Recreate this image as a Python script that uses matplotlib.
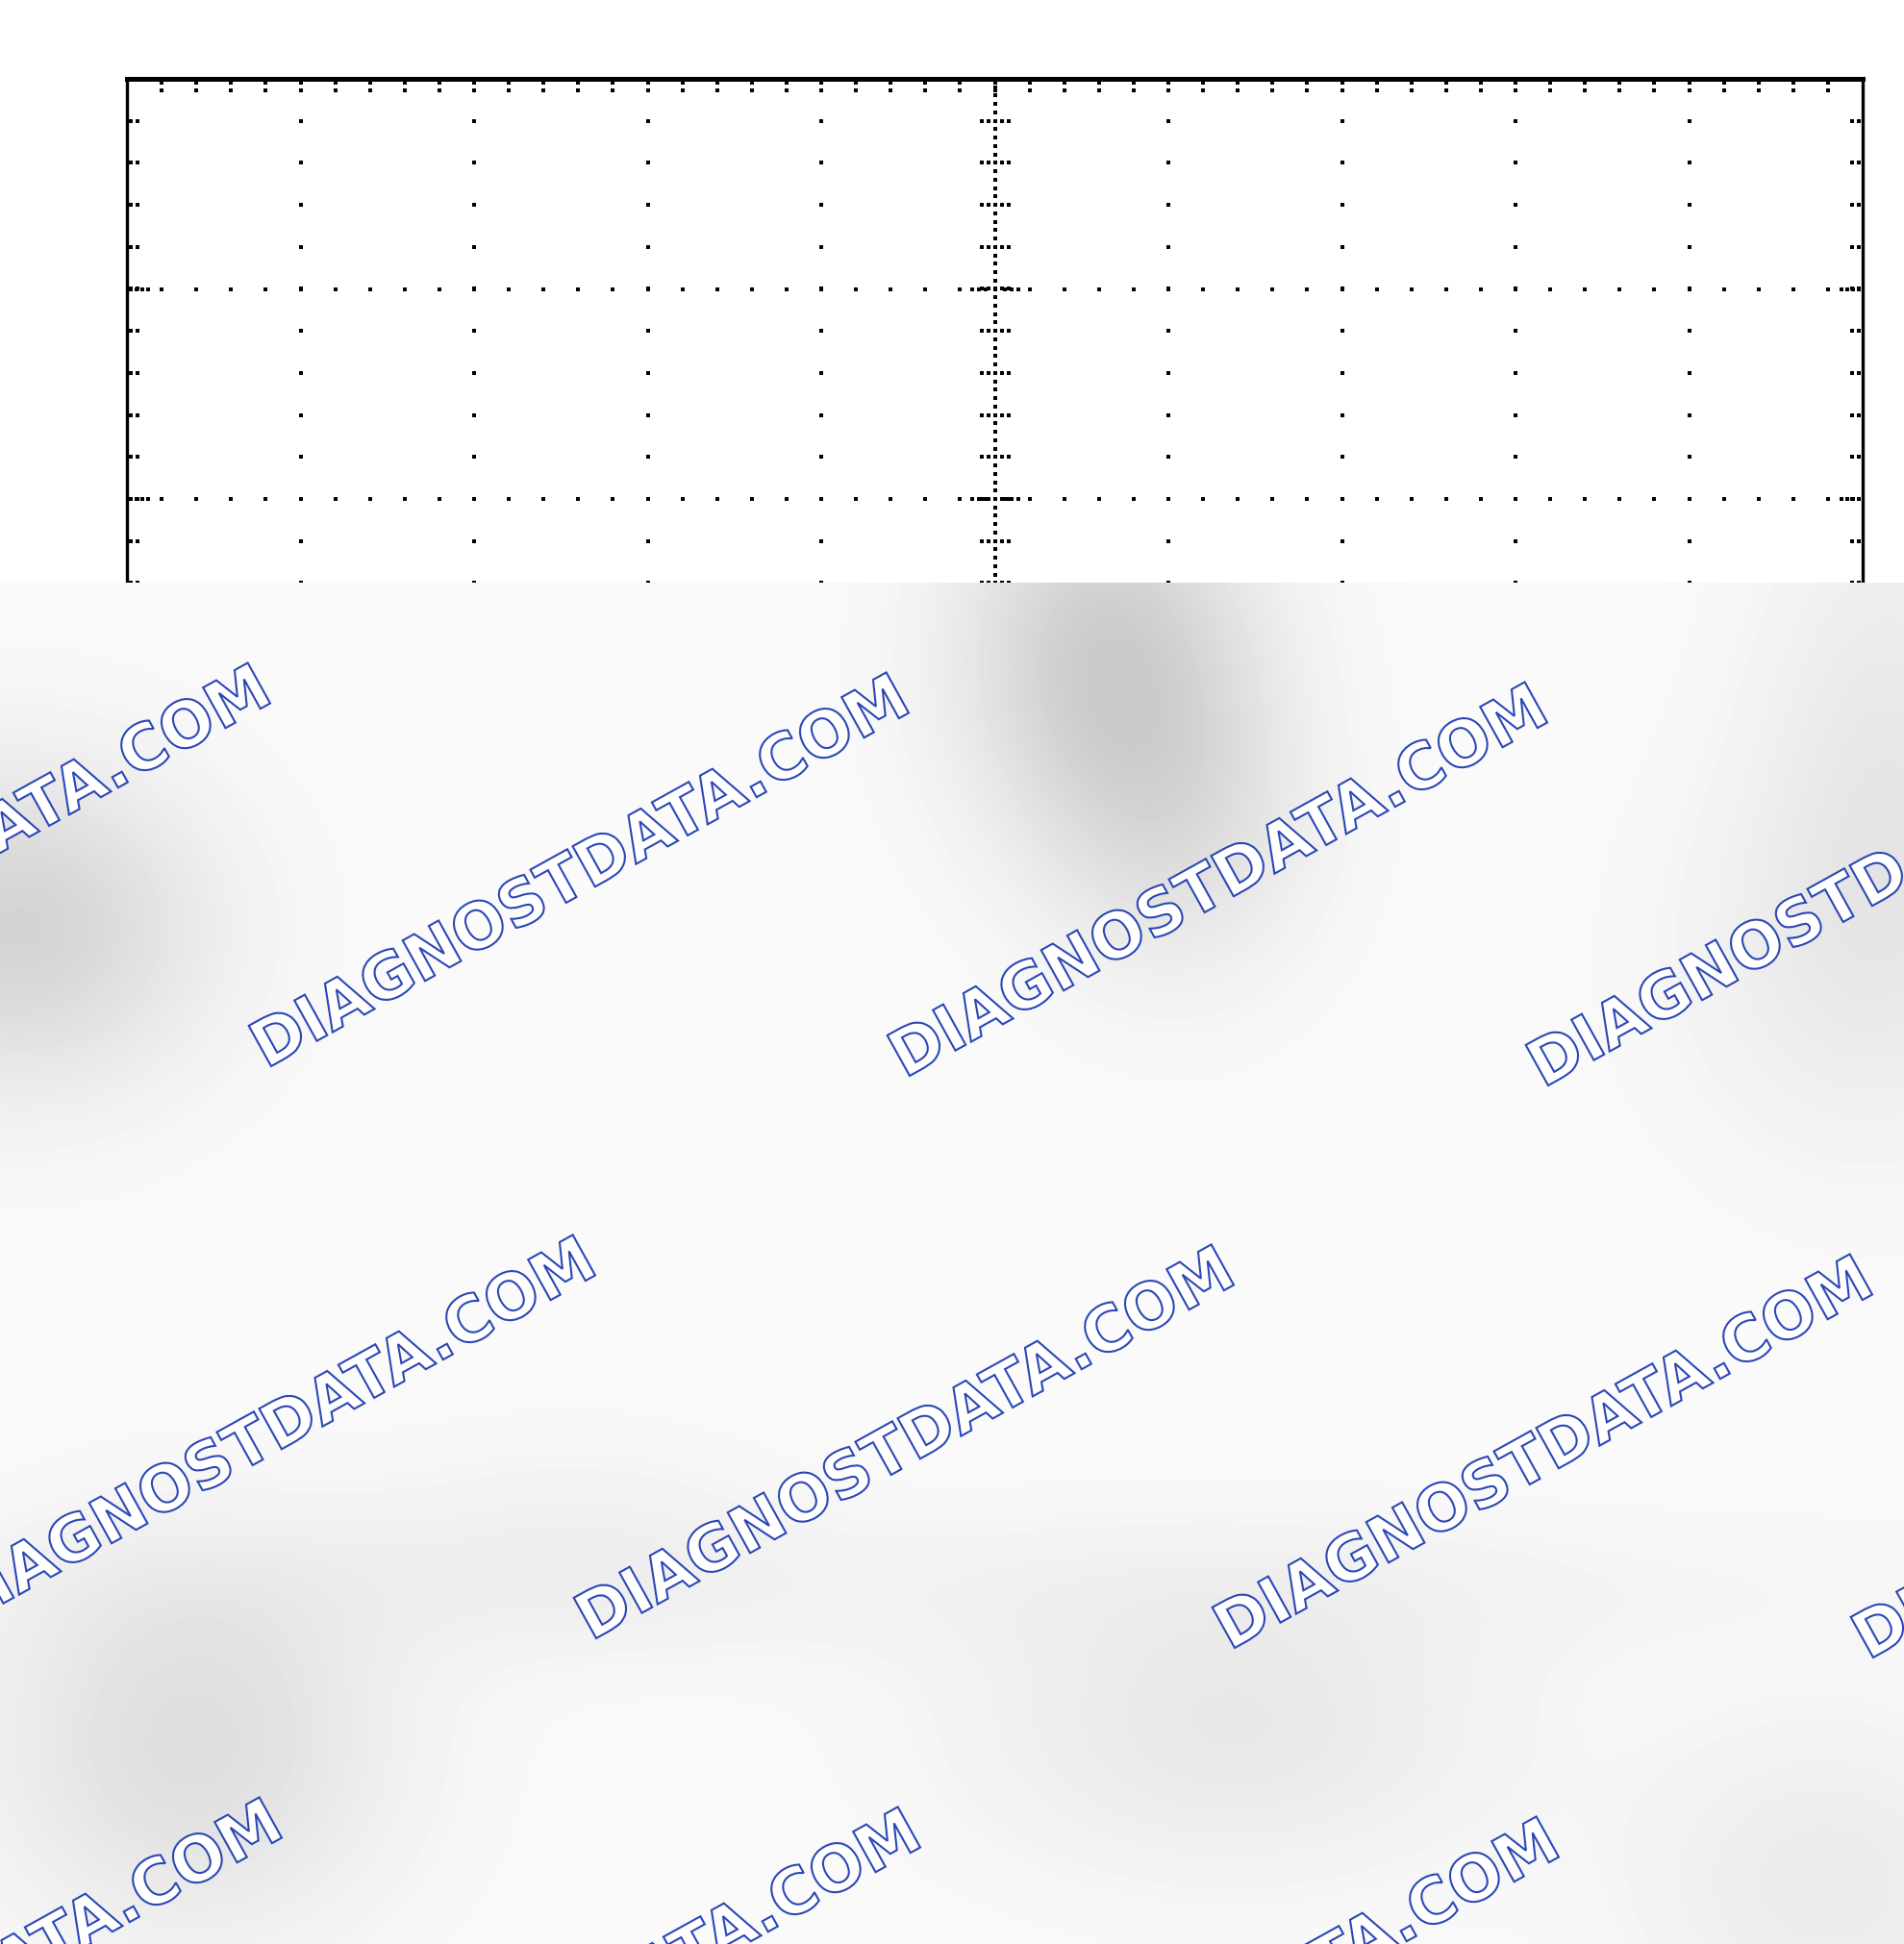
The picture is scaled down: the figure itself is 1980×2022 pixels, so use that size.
import numpy as np
import matplotlib
matplotlib.use('Agg')
import matplotlib.pyplot as plt
from matplotlib.textpath import TextPath
from matplotlib.font_manager import FontProperties
from matplotlib.patches import PathPatch
from matplotlib.transforms import Affine2D

W, H = 1980, 2022

# graticule: 10 x 8 divisions, 5 subdivisions per division
x_lim = (-5, 5)
y_lim = (-4, 4)
x_major = [-4, -3, -2, -1, 1, 2, 3, 4]
y_major = [-3, -2, -1, 1, 2, 3]
n_sub = 5

watermark_text = 'DIAGNOSTDATA.COM'

# grey smudges of the scanned overlay (px, y from top)
blob_cx = [1150, 1230, 20, 200, 1280, 1965, 1930, 1900, 1000, 600]
blob_cy = [680, 860, 965, 1815, 1800, 760, 1000, 1960, 1650, 1600]
blob_sx = [110, 100, 140, 150, 200, 100, 140, 140, 900, 150]
blob_sy = [140, 120, 120, 140, 110, 200, 150, 120, 60, 80]
blob_depth = [0.17, 0.08, 0.15, 0.11, 0.07, 0.06, 0.05, 0.06, 0.025, 0.03]

fig = plt.figure(figsize=(W / 100, H / 100), dpi=100)
fig.patch.set_facecolor('white')

# ---------------- graticule ----------------
g_left, g_top, g_dx, g_dy = 132, 82, 180.5, 218.5
nx = x_lim[1] - x_lim[0]
ny = y_lim[1] - y_lim[0]
ax = fig.add_axes([g_left / W, 1 - (g_top + ny * g_dy) / H, nx * g_dx / W, ny * g_dy / H])
ax.set_xlim(x_lim)
ax.set_ylim(y_lim)
ax.set_xticks([])
ax.set_yticks([])
for s in ax.spines.values():
    s.set_linewidth(2.4)
ax.spines['top'].set_linewidth(3.6)

px_x = 1.0 / g_dx   # one pixel in division units
px_y = 1.0 / g_dy
step = 1.0 / n_sub

sub_x = np.arange(x_lim[0] + step, x_lim[1] - step / 2, step)
sub_y = np.arange(y_lim[0] + step, y_lim[1] - step / 2, step)

dx, dy = [], []
# dotted major lines
for xm in x_major:
    dx += [xm] * len(sub_y)
    dy += list(sub_y)
for ym in y_major:
    dx += list(sub_x)
    dy += [ym] * len(sub_x)

# centre axes, finer dots and cross ticks
fine_y = np.arange(y_lim[0] + step / 5, y_lim[1], step / 5)
fine_x = np.arange(x_lim[0] + step / 5, x_lim[1], step / 5)
dx += [0] * len(fine_y)
dy += list(fine_y)
dx += list(fine_x)
dy += [0] * len(fine_x)
for yv in sub_y:
    for off in (-14, -7, 7, 14):
        dx.append(off * px_x)
        dy.append(yv)
for xv in sub_x:
    for off in (-14, -7, 7, 14):
        dx.append(xv)
        dy.append(off * px_y)
for ym in y_major:
    for off in (-24, -17, -10, 10, 17, 24):
        dx.append(off * px_x)
        dy.append(ym)

# ticks along the frame
for xv in sub_x:
    for off in (4, 12):
        dx += [xv, xv]
        dy += [y_lim[1] - off * px_y, y_lim[0] + off * px_y]
for yv in sub_y:
    for off in (4, 11):
        dx += [x_lim[0] + off * px_x, x_lim[1] - off * px_x]
        dy += [yv, yv]
for ym in y_major:
    for off in (4, 10, 16, 22):
        dx += [x_lim[0] + off * px_x, x_lim[1] - off * px_x]
        dy += [ym, ym]

ax.plot(dx, dy, ls='none', marker='s', ms=2.7, mew=0, color='black')

# ---------------- watermark overlay ----------------
ov_top = 606
ov = fig.add_axes([0, 0, 1, (H - ov_top) / H])
ov.set_zorder(5)
ov.axis('off')

gx = np.arange(0, W, 4) + 2.0
gy = np.arange(ov_top, H, 4) + 2.0
GX, GY = np.meshgrid(gx, gy)
field = np.full(GX.shape, 0.98)
for cx, cy, sx, sy, dep in zip(blob_cx, blob_cy, blob_sx, blob_sy, blob_depth):
    field -= dep * np.exp(-((GX - cx) ** 2 / (2 * sx ** 2) + (GY - cy) ** 2 / (2 * sy ** 2)))
ov.imshow(field, cmap='gray', vmin=0, vmax=1, extent=(0, W, H, ov_top),
          interpolation='bilinear', aspect='auto')
ov.set_xlim(0, W)
ov.set_ylim(H, ov_top)

fp = FontProperties(family='DejaVu Sans', weight='bold')
tp = TextPath((0, 0), watermark_text, size=66, prop=fp)
ext = tp.get_extents()
text_len = 758.0
angle = 29.0
stretch = text_len / ext.width

origin = np.array([282.0, 1109.0])
vec_a = np.array([664.0, 10.0])
vec_b = np.array([338.0, 595.0])
for j in range(-1, 4):
    for i in range(-3, 4):
        x0, y0 = origin + i * vec_a + j * vec_b
        if x0 > W + 50 or x0 < -900 or y0 < ov_top - 50 or y0 > H + 450:
            continue
        tr = (Affine2D().translate(-ext.x0, 0).scale(stretch, -1)
              .rotate_deg(-angle).translate(x0, y0)) + ov.transData
        ov.add_patch(PathPatch(tp, transform=tr, facecolor='white',
                               edgecolor='#2b47b6', lw=1.5))

fig.savefig('out.png', dpi=100)
